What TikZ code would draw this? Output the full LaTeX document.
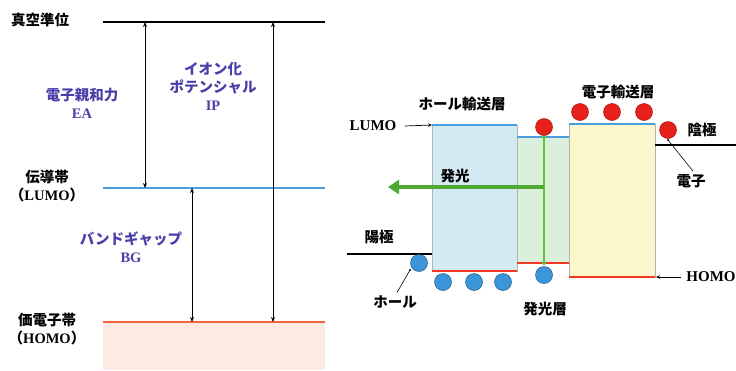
\documentclass[tikz,border=0pt]{standalone}
\usepackage{fontspec}
\setmainfont{Liberation Serif}[BoldFont={Liberation Serif Bold}]
\newfontfamily\latb{Liberation Serif Bold}
\newfontfamily\jp{Noto Sans CJK JP}
\usetikzlibrary{arrows.meta}
\definecolor{lumoblue}{HTML}{4A9EE0}
\definecolor{homored}{HTML}{F03A20}
\definecolor{homoorange}{HTML}{F2643C}
\definecolor{pinkfill}{HTML}{FDEAE2}
\definecolor{labelblue}{HTML}{4A3FA8}
\definecolor{htlfill}{HTML}{D4EAF3}
\definecolor{emlfill}{HTML}{DCEEDC}
\definecolor{etlfill}{HTML}{FBF6CC}
\definecolor{lightgreen}{HTML}{5CC83C}
\definecolor{elred}{HTML}{E8201A}
\definecolor{holeblue}{HTML}{3A96D8}
\tikzset{
  jplabel/.style={font=\jp\bfseries\fontsize{14.5}{18}\selectfont, inner sep=0pt, align=center},
  bluelabel/.style={jplabel, text=labelblue},
  latlabel/.style={font=\latb\fontsize{15}{18}\selectfont, inner sep=0pt},
  dimarrow/.style={line width=0.8pt, {Stealth[length=5pt,width=4pt]}-{Stealth[length=5pt,width=4pt]}},
  electron/.style={circle, draw=elred!70!black, line width=0.5pt, fill=elred, minimum size=17pt, inner sep=0pt},
  hole/.style={circle, draw=holeblue!60!black, line width=0.5pt, fill=holeblue, minimum size=17pt, inner sep=0pt},
  pointer/.style={line width=0.7pt, -{Stealth[length=4pt,width=3.5pt]}},
  leader/.style={line width=0.6pt},
}
\begin{document}
\begin{tikzpicture}[x=1pt,y=-1pt]
\useasboundingbox (0,0) rectangle (736,370);
% ---------- left diagram ----------
\fill[pinkfill] (103,322) rectangle (325,370);
\draw[black, line width=1.3pt] (103,22) -- (325,22);
\draw[lumoblue, line width=1.3pt] (103,188) -- (325,188);
\draw[homoorange, line width=1.6pt] (103,322) -- (325,322);
\coordinate (eaT) at (145,22);
\coordinate (eaB) at (145,188);
\coordinate (ipT) at (273,22);
\coordinate (ipB) at (273,322);
\coordinate (bgT) at (192,188);
\coordinate (bgB) at (192,322);
\draw[dimarrow] (eaT) -- (eaB);
\draw[dimarrow] (ipT) -- (ipB);
\draw[dimarrow] (bgT) -- (bgB);
\node[jplabel] (vac) at (40,20) {真空準位};
\node[jplabel] (cb) at (47,177) {伝導帯};
\node[jplabel] (cbl) at (47,195) {（{\latb LUMO}）};
\node[jplabel] (vb) at (47,320) {価電子帯};
\node[jplabel] (vbl) at (47,338) {（{\latb HOMO}）};
\node[bluelabel] (ea) at (82,103) {電子親和力\\{\latb EA}};
\node[bluelabel] (ip) at (213,86) {イオン化\\ポテンシャル\\{\latb IP}};
\node[bluelabel] (bg) at (131,247) {バンドギャップ\\{\latb BG}};
% ---------- right diagram ----------
% hole transport layer
\fill[htlfill] (432,125) rectangle (517,271);
\draw[gray!60, line width=0.4pt] (432,125) rectangle (517,271);
\draw[lumoblue, line width=2pt] (432,125) -- (517,125);
\draw[homored, line width=2pt] (432,271) -- (517,271);
% emission layer
\fill[emlfill] (517,137) rectangle (569,263);
\draw[gray!60, line width=0.4pt] (517,137) rectangle (569,263);
\draw[lumoblue, line width=2pt] (517,137) -- (569,137);
\draw[homored, line width=2pt] (517,263) -- (569,263);
% electron transport layer
\fill[etlfill] (569,124) rectangle (655,277);
\draw[gray!60, line width=0.4pt] (569,124) rectangle (655,277);
\draw[lumoblue, line width=2pt] (569,124) -- (655,124);
\draw[homored, line width=2pt] (569,277) -- (655,277);
% electrodes
\draw[black, line width=2pt] (655,145) -- (736,145);
\draw[black, line width=2pt] (347,254) -- (432,254);
% recombination line and emitted light
\coordinate (rT) at (544,137);
\coordinate (rB) at (544,263);
\draw[lightgreen, line width=1.2pt] (rT) -- (rB);
\fill[lightgreen] (rT) circle (2pt) (rB) circle (2pt);
\coordinate (lightS) at (544,187);
\coordinate (lightE) at (388,187);
\draw[lightgreen!85!black, line width=4.5pt, -{Triangle[length=11pt,width=14pt]}] (lightS) -- (lightE);
% electrons
\node[electron] (e0) at (544,127) {};
\node[electron] (e1) at (580,112) {};
\node[electron] (e2) at (612,112) {};
\node[electron] (e3) at (644,112) {};
\node[electron] (e4) at (668,130) {};
% holes
\node[hole] (h0) at (419,263) {};
\node[hole] (h1) at (443,282) {};
\node[hole] (h2) at (474,282) {};
\node[hole] (h3) at (503,282) {};
\node[hole] (h4) at (544,275) {};
% labels
\node[jplabel] (htl) at (462,104) {ホール輸送層};
\node[jplabel] (etl) at (618,92) {電子輸送層};
\node[jplabel] (emit) at (455,176) {発光};
\node[jplabel] (cath) at (702,130) {陰極};
\node[jplabel] (anod) at (379,237) {陽極};
\node[jplabel] (elec) at (691,181) {電子};
\node[jplabel] (hol) at (395,302) {ホール};
\node[jplabel] (eml) at (545,309) {発光層};
\node[latlabel] (lumo) at (373,126) {LUMO};
\node[latlabel] (homo) at (711,277) {HOMO};
\coordinate (lumoTip) at (432,125);
\coordinate (homoTip) at (656,277);
\coordinate (elecTip) at (668,140);
\coordinate (holeTip) at (410,270);
\draw[pointer] (lumo.east) ++(8,0) coordinate (lumoS) (lumoS) -- (lumoTip);
\draw[pointer] (homo.west) ++(-5,0) coordinate (homoS) (homoS) -- (homoTip);
\draw[leader] (elec.north) ++(2,-3) coordinate (elecS) (elecS) -- (elecTip);
\fill (elecTip) circle (1.2pt);
\draw[leader] (hol.north) ++(2,-3) coordinate (holS) (holS) -- (holeTip);
\fill (holeTip) circle (1.2pt);
\end{tikzpicture}
\end{document}
